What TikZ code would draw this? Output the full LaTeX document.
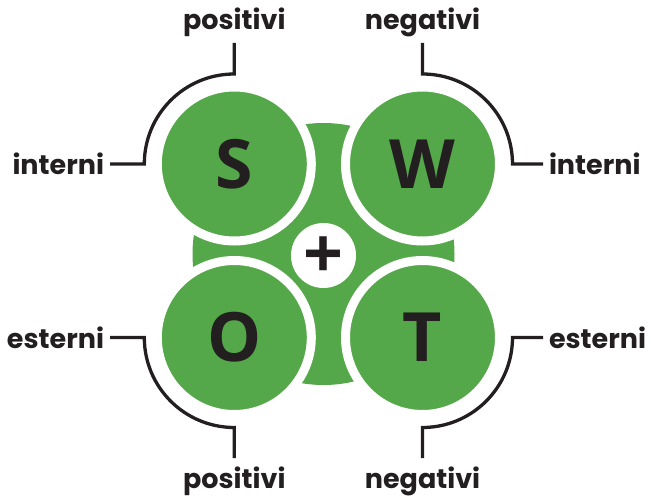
\documentclass[tikz,border=0pt]{standalone}
\usepackage{fontspec}
\setmainfont{Poppins}
\newfontfamily\letterfont{Open Sans}
\definecolor{swotgreen}{HTML}{55A84A}
\definecolor{ink}{HTML}{231F20}
\begin{document}
\begin{tikzpicture}[x=1pt,y=1pt,
  lab/.style={font=\fontsize{27}{27}\selectfont\bfseries, text=ink, inner sep=0pt},
  big/.style={font=\letterfont\fontsize{68}{68}\selectfont\bfseries, text=ink},
  quad/.style={circle, fill=swotgreen, draw=white, line width=9pt, minimum size=154pt, inner sep=0pt},
  conn/.style={draw=ink, line width=3.3pt}]
\useasboundingbox (0,0) rectangle (651,499);
% background disc
\node[circle, fill=swotgreen, minimum size=262pt, inner sep=0pt] (bg) at (323.5,245) {};
% quadrants
\node[quad, big] (S) at (234.3,335) {S};
\node[quad, big] (W) at (422.5,335) {W};
\node[quad, big] (O) at (234.3,161.5) {O};
\node[quad, big] (T) at (422.5,161.5) {T};
% centre
\node[circle, fill=white, minimum size=65pt, inner sep=0pt] (hub) at (323.5,243.5) {};
\node[font=\letterfont\fontsize{70}{70}\selectfont\bfseries, text=ink, inner sep=0pt, yshift=-2pt] (plus) at (hub.center) {+};
% labels
\node[lab, anchor=east, outer sep=6pt] (intS) at (110,335) {interni};
\node[lab, anchor=south, outer sep=6pt] (posS) at (234.3,456) {positivi};
\node[lab, anchor=west, outer sep=6pt] (intW) at (543,335) {interni};
\node[lab, anchor=south, outer sep=6pt] (negW) at (422.5,456) {negativi};
\node[lab, anchor=east, outer sep=6pt] (estO) at (110,161.5) {esterni};
\node[lab, anchor=north, outer sep=9pt] (posO) at (234.3,41) {positivi};
\node[lab, anchor=west, outer sep=6pt] (estT) at (543,161.5) {esterni};
\node[lab, anchor=north, outer sep=9pt] (negT) at (422.5,41) {negativi};
% connectors
\draw[conn] (intS.east) -- (144.3,335) arc[start angle=180, end angle=90, radius=90] -- (posS.south);
\draw[conn] (negW.south) -- (422.5,425) arc[start angle=90, end angle=0, radius=90] -- (intW.west);
\draw[conn] (estO.east) -- (144.3,161.5) arc[start angle=180, end angle=270, radius=90] -- (posO.north);
\draw[conn] (negT.north) -- (422.5,71.5) arc[start angle=270, end angle=360, radius=90] -- (estT.west);
\end{tikzpicture}
\end{document}
